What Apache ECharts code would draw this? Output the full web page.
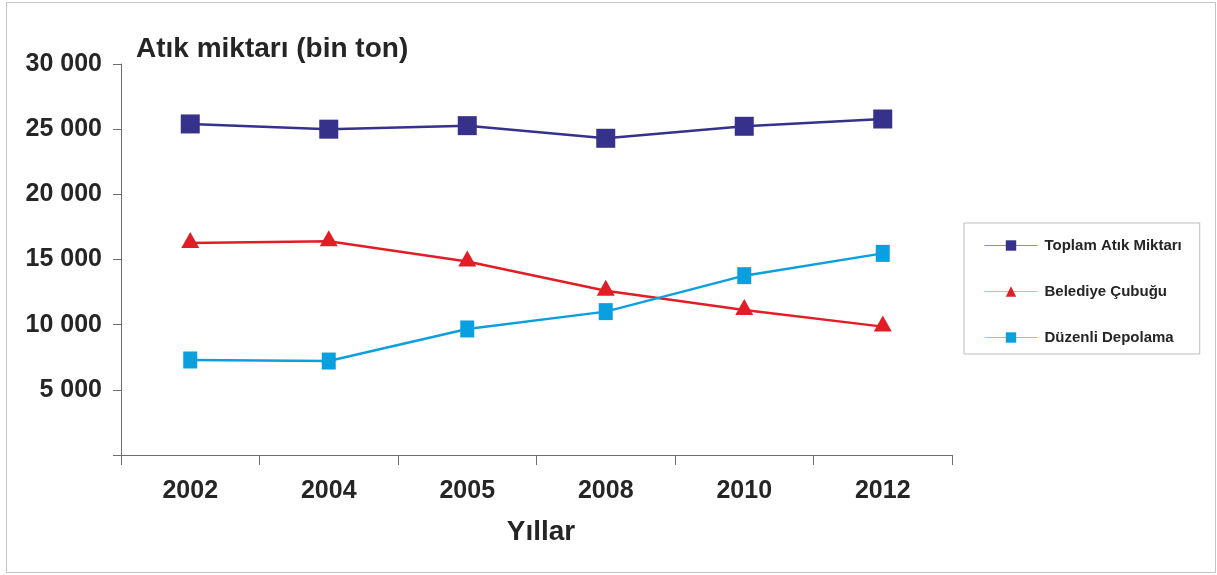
<!DOCTYPE html>
<html>
<head>
<meta charset="utf-8">
<script src="https://cdn.jsdelivr.net/npm/echarts@6/dist/echarts.min.js"></script>
<style>
  html, body { margin: 0; padding: 0; background: #fff; }
  #frame { position: absolute; left: 6px; top: 2px; width: 1208px; height: 569px; border: 1px solid #c4c4c4; }
  #chart { position: absolute; left: 0; top: 0; width: 1217px; height: 575px; }
</style>
</head>
<body>
<div id="frame"></div>
<div id="chart"></div>
<script>
// Years on the category axis
const years = ['2002', '2004', '2005', '2008', '2010', '2012'];
// Waste amounts, thousand tonnes
const toplamAtik = [25400, 25000, 25270, 24300, 25220, 25780];
const belediyeCubugu = [16270, 16400, 14850, 12600, 11120, 9850];
const duzenliDepolama = [7290, 7210, 9670, 11000, 13760, 15470];
// Value axis ticks
const yMin = 0, yMax = 30000, yStep = 5000;

const FONT = '"Liberation Sans", Arial, sans-serif';
const TEXT = '#252525';
const AXIS = '#6e6e6e';

function fmt(v) {
  if (v === 0) return '';
  const s = String(v);
  return s.slice(0, s.length - 3) + ' ' + s.slice(-3);
}

const chart = echarts.init(document.getElementById('chart'), null, { renderer: 'canvas' });
chart.setOption({
  animation: false,
  backgroundColor: 'transparent',
  textStyle: { fontFamily: FONT },
  title: [
    { text: 'Atık miktarı (bin ton)', left: 131, top: 30,
      textStyle: { fontFamily: FONT, fontSize: 28, fontWeight: 'bold', color: TEXT } },
    { text: 'Yıllar', left: 536, top: 513, textAlign: 'center',
      textStyle: { fontFamily: FONT, fontSize: 28, fontWeight: 'bold', color: TEXT } }
  ],
  grid: { left: 121, right: 265, top: 64, bottom: 120, containLabel: false },
  legend: {
    orient: 'vertical', left: 964, top: 223,
    padding: [15, 18, 9, 20],
    itemWidth: 53, itemHeight: 13, itemGap: 31,
    borderColor: '#bdbdbd', borderWidth: 1,
    textStyle: { fontFamily: FONT, fontSize: 15, fontWeight: 'bold', color: TEXT, padding: [0, 0, 0, 2] },
    data: [
      { name: 'Toplam Atık Miktarı', lineStyle: { color: '#8c89bd', width: 1 } },
      { name: 'Belediye Çubuğu', lineStyle: { color: '#f3a6a8', width: 1 } },
      { name: 'Düzenli Depolama', lineStyle: { color: '#79cdee', width: 1 } }
    ]
  },
  xAxis: {
    type: 'category', data: years, boundaryGap: true,
    axisLine: { lineStyle: { color: AXIS, width: 1 } },
    axisTick: { show: true, length: 10, lineStyle: { color: AXIS } },
    axisLabel: { margin: 24, fontFamily: FONT, fontSize: 25, fontWeight: 'bold', color: TEXT }
  },
  yAxis: {
    type: 'value', min: yMin, max: yMax, interval: yStep,
    splitLine: { show: false },
    axisLine: { show: true, lineStyle: { color: AXIS, width: 1 } },
    axisTick: { show: true, length: 8, lineStyle: { color: AXIS } },
    axisLabel: { margin: 19, fontFamily: FONT, fontSize: 25, fontWeight: 'bold', color: TEXT,
                 padding: [7, 0, 0, 0], formatter: fmt }
  },
  series: [
    {
      name: 'Toplam Atık Miktarı', type: 'line', data: toplamAtik,
      symbol: 'rect', symbolSize: 19,
      itemStyle: { color: '#36318a' },
      lineStyle: { color: '#36318a', width: 2.5 }
    },
    {
      name: 'Belediye Çubuğu', type: 'line', data: belediyeCubugu,
      symbol: 'triangle', symbolSize: [18, 16], symbolOffset: [0, -3],
      itemStyle: { color: '#e31d25' },
      lineStyle: { color: '#e31d25', width: 2.5 }
    },
    {
      name: 'Düzenli Depolama', type: 'line', data: duzenliDepolama,
      symbol: 'rect', symbolSize: [14, 17],
      itemStyle: { color: '#0aa0df' },
      lineStyle: { color: '#0aa0df', width: 2.5 }
    }
  ]
});
</script>
</body>
</html>
